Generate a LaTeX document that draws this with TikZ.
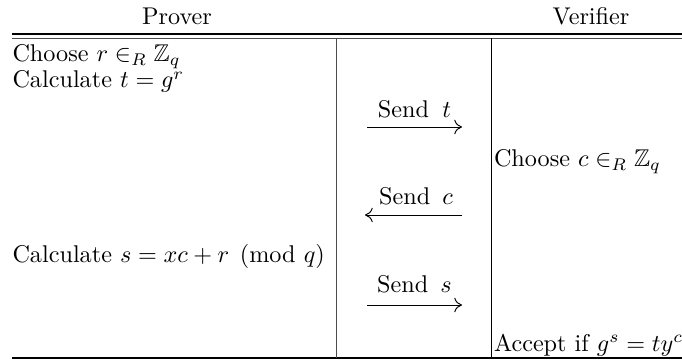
\documentclass[tikz,border=0pt]{standalone}
\usepackage{amsmath,amssymb}
\usetikzlibrary{arrows.meta}
\begin{document}
\begin{tikzpicture}[x=0.4132pt,y=-0.4132pt,
  txt/.style={inner sep=0pt,outer sep=0pt,font=\fontsize{10}{12}\selectfont},
  rulel/.style={line width=0.4pt,draw=black},
  msg/.style={line width=0.4pt,-{Computer Modern Rightarrow[length=3.2pt,width=6pt]}}]
\useasboundingbox (0,0) rectangle (682,360);
\clip (0,0) rectangle (682,360);
% header
\node[txt,anchor=base] (prover) at (177,25) {Prover};
\node[txt,anchor=base] (verifier) at (591,25) {Verifier};
% rules
\coordinate (tl1) at (12,34);   \coordinate (tr1) at (682,34);
\coordinate (tl2) at (12,38.5); \coordinate (tr2) at (682,38.5);
\coordinate (bl) at (12,358);   \coordinate (br) at (682,358);
\draw[rulel,line width=0.5pt] (tl1) -- (tr1);
\draw[rulel,draw=black!70] (tl2) -- (tr2);
\draw[rulel,line width=0.5pt] (bl) -- (br);
\coordinate (v1t) at (336.5,38.5); \coordinate (v1b) at (336.5,358);
\coordinate (v2t) at (491.5,38.5); \coordinate (v2b) at (491.5,358);
\draw[rulel,draw=black!70] (v1t) -- (v1b);
\draw[rulel] (v2t) -- (v2b);
% prover column
\node[txt,anchor=base west] (p1) at (12.5,62) {Choose $r \in_R \mathbb{Z}_q$};
\node[txt,anchor=base west] (p2) at (12.5,88) {Calculate $t = g^r$};
\node[txt,anchor=base west] (p3) at (12.5,263) {Calculate $s = xc + r \pmod{q}$};
% verifier column
\node[txt,anchor=base west] (v1) at (494,167) {Choose $c \in_R \mathbb{Z}_q$};
\node[txt,anchor=base west] (v2) at (494,351) {Accept if $g^{s} = ty^c$};
% messages
\coordinate (a1s) at (367,127); \coordinate (a1e) at (462,127);
\draw[msg] (a1s) -- (a1e);
\node[txt,anchor=base] (m1) at (414.5,118) {Send\hspace{5.5pt}$t$};
\coordinate (a2s) at (462,215); \coordinate (a2e) at (365,215);
\draw[msg] (a2s) -- (a2e);
\node[txt,anchor=base] (m2) at (416,205) {Send\hspace{5pt}$c$};
\coordinate (a3s) at (367,305); \coordinate (a3e) at (462,305);
\draw[msg] (a3s) -- (a3e);
\node[txt,anchor=base] (m3) at (414.5,293) {Send\hspace{5pt}$s$};
\end{tikzpicture}
\end{document}
